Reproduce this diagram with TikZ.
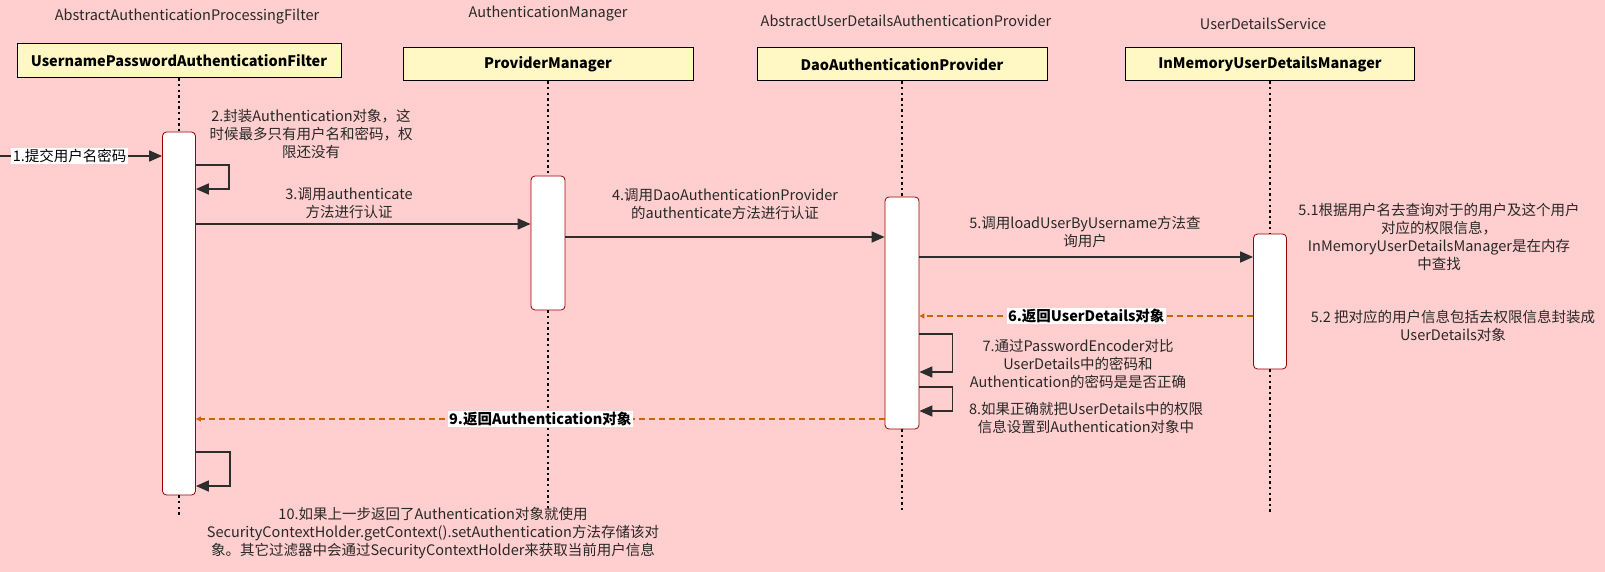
\documentclass[tikz,border=0pt]{standalone}
\usepackage{fontspec}
\setmainfont{Noto Sans CJK SC}
\usetikzlibrary{positioning, arrows.meta, calc}
\definecolor{cBg}{RGB}{255,207,207}
\definecolor{cHead}{RGB}{255,248,196}
\definecolor{cAct}{RGB}{153,0,0}
\definecolor{cRet}{RGB}{204,102,0}
\definecolor{cLine}{RGB}{45,45,45}
\definecolor{cTxt}{RGB}{40,40,40}
\newcommand{\diagfont}{\fontsize{14.5}{18}\selectfont}

\tikzset{
  head/.style={draw=black, line width=1pt, fill=cHead, minimum height=34pt, font=\diagfont\bfseries, text=black},
  actbox/.style={draw=cAct, line width=0.8pt, fill=white, rounded corners=4pt, minimum width=33pt},
  life/.style={line width=2.4pt, dash pattern=on 2.4pt off 3.2pt},
  msg/.style={draw=cLine, line width=1.7pt, -{Triangle[length=13pt,width=11pt]}},
  ret/.style={draw=cRet, line width=1.3pt, dash pattern=on 6pt off 4pt, -{Triangle[length=5pt,width=5pt]}},
  note/.style={align=center, text=cTxt},
  tag/.style={fill=white, inner sep=1.5pt, text=black},
}

\begin{document}
\begin{tikzpicture}[x=1pt, y=-1pt, font=\diagfont]

    % --- Background ---
    \fill[cBg] (0,0) rectangle (1605,572);
    \useasboundingbox (0,0) rectangle (1605,572);

    % --- Participants ---
    \node[note] at (187,17) {AbstractAuthenticationProcessingFilter};
    \node[note] at (548,14) {AuthenticationManager};
    \node[note] at (906,21) {AbstractUserDetailsAuthenticationProvider};
    \node[note] at (1263,24) {UserDetailsService};

    \node[head, minimum width=324pt] (filter) at (179,61) {UsernamePasswordAuthenticationFilter};
    \node[head, minimum width=290pt, minimum height=33pt] (manager) at (548,64.5) {ProviderManager};
    \node[head, minimum width=290pt, minimum height=33pt] (provider) at (902,64.5) {DaoAuthenticationProvider};
    \node[head, minimum width=289pt, minimum height=33pt] (service) at (1270,64.5) {InMemoryUserDetailsManager};

    % --- Activations ---
    \node[actbox, minimum height=363pt] (act1) at (179,313.5) {};
    \node[actbox, minimum width=34pt, minimum height=134pt] (act2) at (548,243) {};
    \node[actbox, minimum width=34pt, minimum height=232pt] (act3) at (902,313) {};
    \node[actbox, minimum height=135pt] (act4) at (1270,301.5) {};

    % --- Lifelines ---
    \draw[life] (filter.south) -- (act1.north);
    \draw[life] (act1.south) -- ++(0,22);
    \draw[life] (manager.south) -- (act2.north);
    \draw[life] (act2.south) -- ++(0,198);
    \draw[life] (provider.south) -- (act3.north);
    \draw[life] (act3.south) -- ++(0,83);
    \draw[life] (service.south) -- (act4.north);
    \draw[life] (act4.south) -- ++(0,143);

    % --- Messages ---
    % 1 submit
    \coordinate (user) at (0,156);
    \draw[msg] (user) -- (user -| act1.west) node[tag, pos=0.43] {1.提交用户名密码};

    % 2 wrap Authentication
    \draw[msg] (act1.east |- 0,165) -- ++(33,0) |- (act1.east |- 0,189);
    \node[note] at (311,134) {2.封装Authentication对象，这\\时候最多只有用户名和密码，权\\限还没有};

    % 3 authenticate
    \draw[msg] (act1.east |- 0,224) -- (act2.west |- 0,224);
    \node[note] at (349,203) {3.调用authenticate\\方法进行认证};

    % 4 provider
    \draw[msg] (act2.east |- 0,237) -- (act3.west |- 0,237);
    \node[note] at (725,204) {4.调用DaoAuthenticationProvider\\的authenticate方法进行认证};

    % 5 loadUserByUsername
    \draw[msg] (act3.east |- 0,257) -- (act4.west |- 0,257);
    \node[note] at (1085,232) {5.调用loadUserByUsername方法查\\询用户};
    \node[note] at (1439,236.5) {5.1根据用户名去查询对于的用户及这个用户\\对应的权限信息，\\InMemoryUserDetailsManager是在内存\\中查找};
    \node[note] at (1453,326) {5.2 把对应的用户信息包括去权限信息封装成\\UserDetails对象};

    % 6 return UserDetails
    \draw[ret] (act4.west |- 0,316) -- (act3.east |- 0,316) node[tag, midway, font=\diagfont\bfseries] {6.返回UserDetails对象};

    % 7 and 8 checks
    \draw[msg] (act3.east |- 0,334) -- ++(33,0) |- (act3.east |- 0,372);
    \node[note] at (1078,364) {7.通过PasswordEncoder对比\\UserDetails中的密码和\\Authentication的密码是是否正确};
    \draw[msg] (act3.east |- 0,387) -- ++(33,0) |- (act3.east |- 0,411);
    \node[note] at (1086,418) {8.如果正确就把UserDetails中的权限\\信息设置到Authentication对象中};

    % 9 return Authentication
    \draw[ret] (act3.west |- 0,419) -- (act1.east |- 0,419) node[tag, midway, font=\diagfont\bfseries] {9.返回Authentication对象};

    % 10 store in context
    \draw[msg] (act1.east |- 0,452) -- ++(34,0) |- (act1.east |- 0,486);
    \node[note] at (433,533) {10.如果上一步返回了Authentication对象就使用\\SecurityContextHolder.getContext().setAuthentication方法存储该对\\象。其它过滤器中会通过SecurityContextHolder来获取当前用户信息};

\end{tikzpicture}
\end{document}
